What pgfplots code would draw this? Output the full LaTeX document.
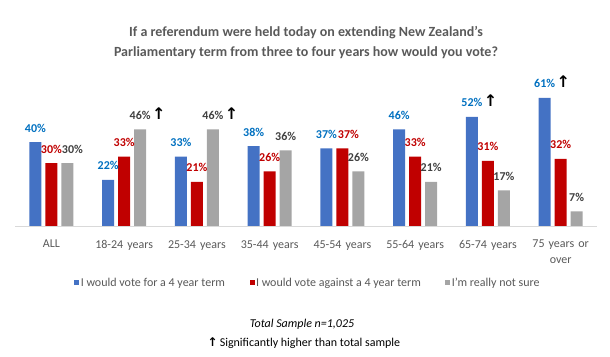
\documentclass[border=0pt]{standalone}
\usepackage{pgfplots}
\pgfplotsset{compat=1.18}
\usepackage{fontspec}
\setmainfont{Carlito}
\newfontfamily\dejavu{DejaVu Sans}
\definecolor{barblue}{RGB}{68,114,196}
\definecolor{barred}{RGB}{192,0,0}
\definecolor{bargray}{RGB}{165,165,165}
\definecolor{lblblue}{RGB}{0,112,192}
\definecolor{lblred}{RGB}{192,0,0}
\definecolor{lblgray}{RGB}{64,64,64}
\definecolor{textgray}{RGB}{89,89,89}
\definecolor{linegray}{RGB}{217,217,217}
\protected\def\arr{\rlap{\hspace{1.5pt}{\color{black}\dejavu\bfseries\fontsize{16}{16}\selectfont ↑}}}
\begin{document}
\begin{tikzpicture}
\useasboundingbox (0,0) rectangle (610pt,356pt);
\node[anchor=base, font=\bfseries\fontsize{14}{17}\selectfont, text=textgray] at (306pt,319.5pt) {If a referendum were held today on extending New Zealand's};
\node[anchor=base, font=\bfseries\fontsize{14}{17}\selectfont, text=textgray] at (306pt,299pt) {Parliamentary term from three to four years how would you vote?};
\begin{axis}[
  at={(15pt,130pt)}, anchor=south west, scale only axis,
  width=582pt, height=147pt,
  xmin=-0.5, xmax=7.5, ymin=0, ymax=70,
  ybar, bar width=12pt,
  axis y line=none, axis x line*=bottom,
  x axis line style={draw=linegray, line width=0.8pt, -},
  xtick={0,...,7},
  xticklabels={ALL,18-24 years,25-34 years,35-44 years,45-54 years,55-64 years,65-74 years,{75 years or\\over}},
  xtick style={draw=none},
  xticklabel style={text width=72pt, align=center, font=\fontsize{12}{15}\selectfont, text=textgray, yshift=-6.5pt},
  ytick=\empty,
  clip=false,
  point meta=explicit symbolic,
  nodes near coords,
  every node near coord/.append style={font=\bfseries\fontsize{12}{12}\selectfont, anchor=base, yshift=10pt, inner sep=0pt},
  legend columns=3,
  legend style={at={(0.503,-0.386)}, anchor=center, draw=none, font=\fontsize{12}{14}\selectfont, text=textgray, nodes={inner sep=1.5pt}, /tikz/every even column/.append style={column sep=23pt}},
]
\addplot[fill=barblue, draw=none, bar shift=-16pt, every node near coord/.append style={text=lblblue},
  legend image code/.code={\fill[barblue] (0pt,-2.5pt) rectangle (5pt,2.5pt);}]
  coordinates {(0,40) [40\%] (1,22) [22\%] (2,33) [33\%] (3,38) [38\%] (4,37) [37\%] (5,46) [46\%] (6,52) [52\%\arr] (7,61) [61\%\arr]};
\addplot[fill=barred, draw=none, bar shift=0pt, every node near coord/.append style={text=lblred},
  legend image code/.code={\fill[barred] (0pt,-2.5pt) rectangle (5pt,2.5pt);}]
  coordinates {(0,30) [30\%] (1,33) [33\%] (2,21) [21\%] (3,26) [26\%] (4,37) [\hspace{12pt}37\%] (5,33) [33\%] (6,31) [31\%] (7,32) [32\%]};
\addplot[fill=bargray, draw=none, bar shift=16pt, every node near coord/.append style={text=lblgray},
  legend image code/.code={\fill[bargray] (0pt,-2.5pt) rectangle (5pt,2.5pt);}]
  coordinates {(0,30) [\hspace{10pt}30\%] (1,46) [46\%\arr] (2,46) [46\%\arr] (3,36) [36\%] (4,26) [26\%] (5,21) [21\%] (6,17) [17\%] (7,7) [7\%]};
\legend{I would vote for a 4 year term,I would vote against a 4 year term,I'm really not sure}
\end{axis}
\node[anchor=base, font=\itshape\fontsize{12}{14}\selectfont] at (302pt,28pt) {Total Sample n=1,025};
\node[anchor=base, font=\fontsize{12}{14}\selectfont] at (304pt,10pt) {{\dejavu\bfseries ↑}\,Significantly higher than total sample};
\end{tikzpicture}
\end{document}
